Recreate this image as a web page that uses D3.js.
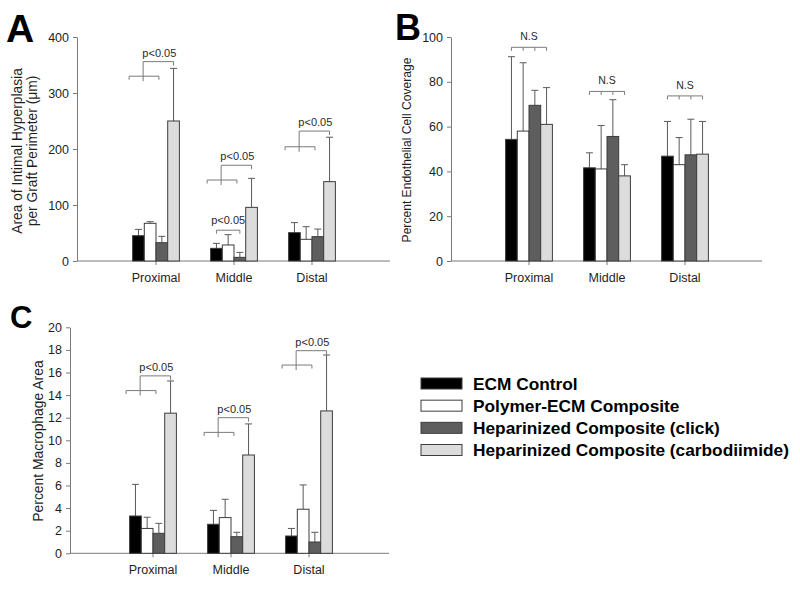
<!DOCTYPE html>
<html><head><meta charset="utf-8">
<script src="https://cdn.jsdelivr.net/npm/d3@7"></script>
<style>
body{margin:0;background:#fff}
svg{display:block}
text{font-family:"Liberation Sans",Arial,Helvetica,sans-serif}
</style>
</head><body>
<svg id="chart" width="800" height="590"></svg>
<script>
// ---------- DATA ----------
const categories = ["Proximal", "Middle", "Distal"];
const seriesNames = ["ECM Control", "Polymer-ECM Composite", "Heparinized Composite (click)", "Heparinized Composite (carbodiimide)"];
const seriesColors = ["#000000", "#ffffff", "#5e5e5e", "#dcdcdc"];

// Panel A: Area of intimal hyperplasia per graft perimeter (µm), rows = categories, cols = series
const areaTicks = [0, 100, 200, 300, 400];
const areaMean = [[45.2, 67.3, 32.7, 250.0], [22.6, 28.6, 6.5, 95.8], [50.6, 38.7, 43.5, 141.7]];
const areaSD   = [[11.3, 2.9, 11.3, 94.0], [8.9, 18.4, 8.9, 51.8], [17.9, 22.6, 13.5, 79.3]];
// [category, lower bracket level, upper bracket level, label]
const areaSig = [[0, 330, 356, "p<0.05"], [1, 144.6, 171, "p<0.05"], [2, 204, 232, "p<0.05"]];
// [category, level, label] bracket from series 0 to series 2
const areaPairSig = [[1, 55, "p<0.05"]];

// Panel B: Percent endothelial cell coverage
const ecTicks = [0, 20, 40, 60, 80, 100];
const ecMean = [[54.3, 58.0, 69.5, 61.0], [41.6, 41.1, 55.6, 38.0], [46.8, 43.0, 47.4, 47.7]];
const ecSD   = [[36.9, 30.5, 6.7, 16.4], [6.7, 19.4, 16.4, 5.0], [15.5, 12.1, 15.9, 14.6]];
const ecNS = [[0, 95.4, "N.S"], [1, 75.7, "N.S"], [2, 73.7, "N.S"]];

// Panel C: Percent macrophage area
const macTicks = [0, 2, 4, 6, 8, 10, 12, 14, 16, 18, 20];
const macMean = [[3.30, 2.20, 1.77, 12.40], [2.57, 3.16, 1.47, 8.70], [1.53, 3.90, 1.00, 12.60]];
const macSD   = [[2.80, 0.99, 0.88, 2.85], [1.23, 1.62, 0.39, 2.75], [0.67, 2.15, 0.86, 4.95]];
const macSig = [[0, 14.4, 15.7, "p<0.05"], [1, 10.7, 12.0, "p<0.05"], [2, 16.66, 17.93, "p<0.05"]];

// ---------- DRAW ----------
const svg = d3.select("#chart");
const AXIS = "#7a7a7a", ERR = "#5a5a5a", BR = "#7a7a7a", TXT = "#1e1e1e";

function panel(cfg) {
  const g = svg.append("g");
  const x = d3.scaleLinear().domain([0, 4]).range([cfg.xStart, cfg.xStart + 312]);
  const y = d3.scaleLinear().domain([0, cfg.max]).range([cfg.yZero, cfg.yTop]);
  const w = (x(1) - x(0)) * 0.15;
  const barX = (ci, si) => x(ci + 1) + (si - 2) * w;

  // y axis
  const ya = g.append("g").attr("transform", `translate(${cfg.axisX},0)`)
    .call(d3.axisLeft(y).tickValues(cfg.ticks).tickSize(4).tickSizeOuter(0).tickPadding(4).tickFormat(d3.format("d")));
  ya.select(".domain").attr("stroke", AXIS);
  ya.selectAll(".tick line").attr("stroke", AXIS);
  ya.selectAll(".tick text").attr("fill", TXT).style("font-size", "12.5px").style("font-family", '"Liberation Sans",Arial,sans-serif');

  // x axis
  g.append("line").attr("x1", cfg.axisX).attr("x2", cfg.axisEnd)
    .attr("y1", y(0)).attr("y2", y(0)).attr("stroke", AXIS);
  categories.forEach((c, i) => {
    g.append("line").attr("x1", x(i + 1)).attr("x2", x(i + 1))
      .attr("y1", y(0)).attr("y2", y(0) + 4).attr("stroke", AXIS);
    g.append("text").attr("x", x(i + 1)).attr("y", y(0) + 21)
      .attr("text-anchor", "middle").attr("fill", TXT).style("font-size", "12.5px").text(c);
  });

  // error bars
  cfg.mean.forEach((row, ci) => row.forEach((m, si) => {
    const cx = barX(ci, si) + w / 2;
    const top = m + cfg.sd[ci][si];
    g.append("line").attr("x1", cx).attr("x2", cx).attr("y1", y(m)).attr("y2", y(top)).attr("stroke", ERR);
    g.append("line").attr("x1", cx - 3.5).attr("x2", cx + 3.5).attr("y1", y(top)).attr("y2", y(top)).attr("stroke", ERR);
  }));
  // bars
  cfg.mean.forEach((row, ci) => row.forEach((m, si) => {
    g.append("rect").attr("x", barX(ci, si)).attr("width", w)
      .attr("y", y(m)).attr("height", y(0) - y(m))
      .attr("fill", seriesColors[si]).attr("stroke", "#3c3c3c").attr("stroke-width", 1);
  }));

  // significance brackets (group 0-2 vs series 3)
  (cfg.sig || []).forEach(([ci, lo, hi, lab]) => {
    const c = x(ci + 1);
    const l0 = c - 2 * w - 0.3 * w, l1 = c + 0.25 * w, stem = c - 1.1 * w, u1 = c + 1.5 * w;
    const yl = y(lo), yu = y(hi);
    g.append("path").attr("fill", "none").attr("stroke", BR)
      .attr("d", `M${l0},${yl + 3.5}V${yl}H${l1}V${yl + 3.5}M${stem},${yl + 5}V${yu}H${u1}V${yu + 4}`);
    g.append("text").attr("x", (stem + u1) / 2 + 1).attr("y", yu - 5)
      .attr("text-anchor", "middle").attr("fill", "#2a2a2a").style("font-size", "11px").text(lab);
  });
  (cfg.pair || []).forEach(([ci, lev, lab]) => {
    const a = barX(ci, 0) + w / 2, b = barX(ci, 2) + w / 2, yl = y(lev);
    g.append("path").attr("fill", "none").attr("stroke", BR)
      .attr("d", `M${a},${yl + 3.5}V${yl}H${b}V${yl + 3.5}`);
    g.append("text").attr("x", (a + b) / 2).attr("y", yl - 6)
      .attr("text-anchor", "middle").attr("fill", "#2a2a2a").style("font-size", "11px").text(lab);
  });
  (cfg.ns || []).forEach(([ci, lev, lab]) => {
    const a = barX(ci, 0) + w / 2, b = barX(ci, 3) + w / 2, yl = y(lev);
    let d = `M${a},${yl}H${b}`;
    [0, 1, 2, 3].forEach(si => { const xx = a + (b - a) * si / 3; d += `M${xx},${yl}V${yl + 3.5}`; });
    g.append("path").attr("fill", "none").attr("stroke", BR).attr("d", d);
    g.append("text").attr("x", (a + b) / 2).attr("y", yl - 7)
      .attr("text-anchor", "middle").attr("fill", "#2a2a2a").style("font-size", "10.5px").text(lab);
  });

  // y label
  cfg.ylab.forEach((t, k) => {
    g.append("text").attr("transform", `translate(${cfg.ylabX[k]},${cfg.ylabY}) rotate(-90)`)
      .attr("text-anchor", "middle").attr("fill", TXT).style("font-size", cfg.ylabSize + "px").text(t);
  });
  // panel letter
  g.append("text").attr("x", cfg.letterX).attr("y", cfg.letterY)
    .attr("fill", "#000").style("font-size", cfg.letterSize + "px").style("font-weight", "bold").text(cfg.letter);
}

panel({ letter: "A", letterX: 6, letterY: 42, letterSize: 39,
  axisX: 77, xStart: 78, axisEnd: 390, yZero: 261, yTop: 37, max: 400, ticks: areaTicks,
  mean: areaMean, sd: areaSD, sig: areaSig, pair: areaPairSig,
  ylab: ["Area of Intimal Hyperplasia", "per Graft Perimeter (\u03bcm)"], ylabX: [22, 37], ylabY: 151, ylabSize: 13.8 });

panel({ letter: "B", letterX: 395, letterY: 40, letterSize: 36,
  axisX: 451, xStart: 451, axisEnd: 762, yZero: 261, yTop: 37, max: 100, ticks: ecTicks,
  mean: ecMean, sd: ecSD, ns: ecNS,
  ylab: ["Percent Endothelial Cell Coverage"], ylabX: [411], ylabY: 150, ylabSize: 12.1 });

panel({ letter: "C", letterX: 10, letterY: 328, letterSize: 31,
  axisX: 70, xStart: 75, axisEnd: 389, yZero: 553.3, yTop: 327.3, max: 20, ticks: macTicks,
  mean: macMean, sd: macSD, sig: macSig,
  ylab: ["Percent Macrophage Area"], ylabX: [43], ylabY: 441, ylabSize: 13.9 });

// legend
const leg = svg.append("g");
const legY = d3.scaleLinear().domain([0, 3]).range([383.5, 450]);
seriesNames.forEach((n, i) => {
  leg.append("rect").attr("x", 421).attr("y", legY(i) - 5.5).attr("width", 41).attr("height", 11)
    .attr("fill", seriesColors[i]).attr("stroke", "#3c3c3c");
  leg.append("text").attr("x", 473).attr("y", legY(i) + 6).attr("fill", "#000")
    .style("font-size", "17.3px").style("font-weight", "bold").text(n);
});
</script>
</body></html>
